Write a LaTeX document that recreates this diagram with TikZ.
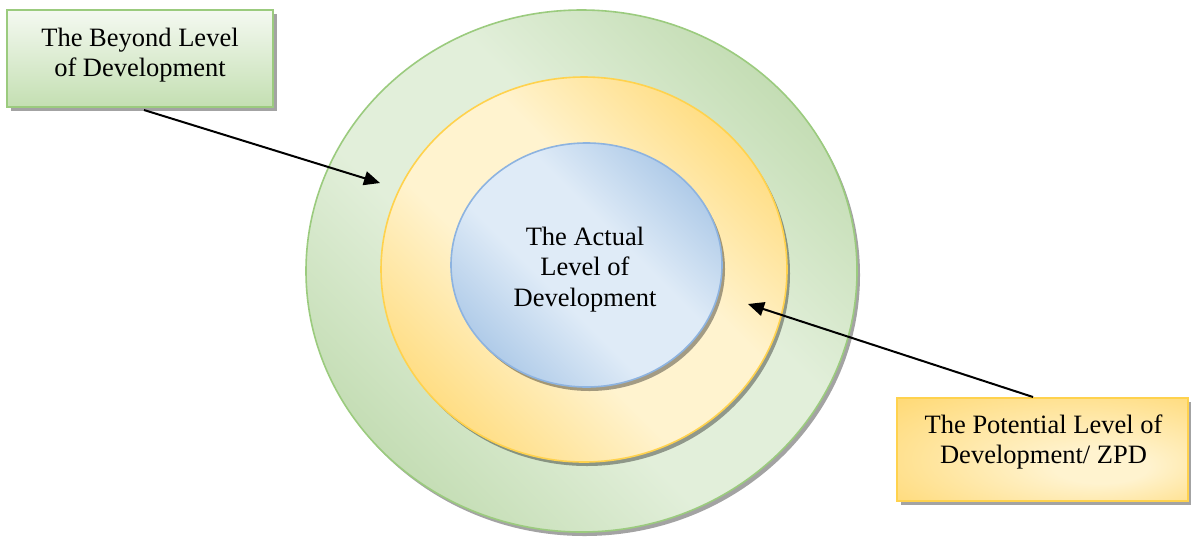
\documentclass[tikz,border=0pt]{standalone}
\usepackage{fontspec}
\setmainfont{Liberation Serif}
\usetikzlibrary{arrows.meta,shapes.geometric}
\definecolor{gdark}{HTML}{BFDAAE}
\definecolor{glight}{HTML}{E2EFDA}
\definecolor{gline}{HTML}{9BCB7E}
\definecolor{gtop}{HTML}{F4F9F1}
\definecolor{gbot}{HTML}{C4DFB2}
\definecolor{ydark}{HTML}{FFDA78}
\definecolor{ylight}{HTML}{FFF3CF}
\definecolor{yline}{HTML}{FFD24D}
\definecolor{bdark}{HTML}{A8C6E6}
\definecolor{blight}{HTML}{DFEBF7}
\definecolor{bline}{HTML}{8DB3E0}
\pgfdeclareradialshading{yelbox}{\pgfpoint{12bp}{-10bp}}{color(0bp)=(ylight); color(8bp)=(ylight); color(38bp)=(ydark); color(50bp)=(ydark)}
\pgfdeclarehorizontalshading{gsh}{100bp}{color(0bp)=(gdark); color(22bp)=(gdark); color(42bp)=(glight); color(58bp)=(glight); color(78bp)=(gdark); color(100bp)=(gdark)}
\pgfdeclarehorizontalshading{ysh}{100bp}{color(0bp)=(ydark); color(22bp)=(ydark); color(42bp)=(ylight); color(58bp)=(ylight); color(78bp)=(ydark); color(100bp)=(ydark)}
\pgfdeclarehorizontalshading{bsh}{100bp}{color(0bp)=(bdark); color(22bp)=(bdark); color(42bp)=(blight); color(58bp)=(blight); color(78bp)=(bdark); color(100bp)=(bdark)}
\begin{document}
\begin{tikzpicture}[x=1pt,y=-1pt,
  shad/.style={fill=black,opacity=0.36,draw=none},
  ell/.style={ellipse,inner sep=0pt},
  txt/.style={font=\fontsize{26.5}{30.5}\selectfont,align=center,inner sep=0pt},
  arr/.style={line width=2pt,-{Triangle[length=16pt,width=14pt]}}]
\useasboundingbox (0,0) rectangle (1191,550);
\fill[white] (0,0) rectangle (1191,550);
% outer green circle
\node[ell,shad,minimum width=551pt,minimum height=522pt] (outershad) at (584.5,275) {};
\node[ell,minimum width=551pt,minimum height=522pt,draw=gline,line width=1.6pt,
  shading=gsh,shading angle=45] (outer) at (581.5,271) {};
% yellow circle
\node[ell,shad,minimum width=406pt,minimum height=385pt] (midshad) at (587,273.5) {};
\node[ell,minimum width=406pt,minimum height=385pt,draw=yline,line width=1.6pt,
  shading=ysh,shading angle=45] (mid) at (584,269.5) {};
% blue circle
\node[ell,shad,minimum width=271pt,minimum height=244pt] (innershad) at (589.5,269) {};
\node[ell,minimum width=271pt,minimum height=244pt,draw=bline,line width=1.6pt,
  shading=bsh,shading angle=45] (inner) at (586.5,265) {};
\node[txt] (innertxt) at (585,269.3) {The Actual\\Level of\\Development};
% green box
\node[shad,rectangle,minimum width=266pt,minimum height=97pt,inner sep=0pt] (beyondshad) at (144,62.5) {};
\node[rectangle,minimum width=266pt,minimum height=97pt,inner sep=0pt,draw=gline,line width=1.5pt,
  top color=gtop,bottom color=gbot] (beyond) at (140,58.5) {};
\node[txt] (beyondtxt) at (140,54.9) {The Beyond Level\\of Development};
% yellow box
\node[shad,rectangle,minimum width=291pt,minimum height=103pt,inner sep=0pt] (potshad) at (1046.5,453.5) {};
\node[rectangle,minimum width=291pt,minimum height=103pt,inner sep=0pt,draw=yline,line width=1.5pt,
  shading=yelbox] (pot) at (1042.5,449.5) {};
\node[txt] (pottxt) at (1043.5,442) {The Potential Level of\\Development/ ZPD};
% arrows
\coordinate (a1s) at (144,110);
\coordinate (a1e) at (380,183);
\coordinate (a2s) at (1033,397);
\coordinate (a2e) at (748,304);
\draw[arr] (a1s) -- (a1e);
\draw[arr] (a2s) -- (a2e);
\end{tikzpicture}
\end{document}
